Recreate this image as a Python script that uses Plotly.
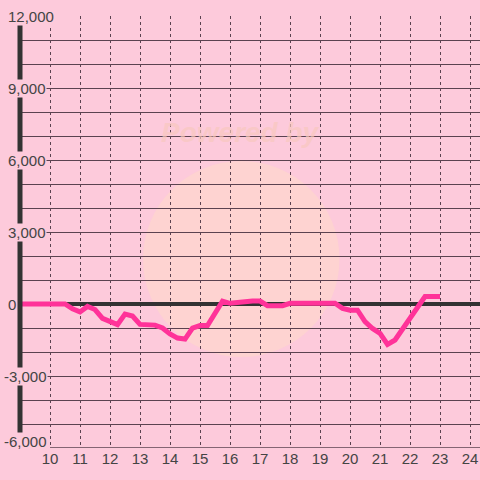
import plotly.graph_objects as go

# hour of day vs. value
hours = [9.0, 10.5, 10.75, 11.0, 11.25, 11.5, 11.75, 12.0, 12.25, 12.5, 12.75,
         13.0, 13.25, 13.5, 13.75, 14.0, 14.25, 14.5, 14.75, 15.0, 15.25, 15.5,
         15.75, 16.0, 16.25, 16.5, 16.75, 17.0, 17.25, 17.5, 17.75, 18.0, 19.5,
         19.75, 20.0, 20.25, 20.5, 20.75, 21.0, 21.25, 21.5, 22.5, 23.0]
values = [0, 0, -200, -330, -100, -230, -600, -720, -860, -420, -500,
          -850, -840, -880, -1000, -1250, -1420, -1460, -1000, -900, -900, -350,
          120, 30, 70, 120, 120, 120, -70, -70, -70, 30, 30,
          -180, -260, -260, -730, -1020, -1220, -1680, -1500, 310, 310]

x_ticks = list(range(10, 25))
y_labels = [12000, 9000, 6000, 3000, 0, -3000, -6000]

BG = "#fdcadb"
GRID = "#5b4250"
DARK = "#333333"

fig = go.Figure()

# faint watermark
fig.add_shape(type="circle", xref="x", yref="y", x0=13.1, x1=19.65, y0=-2210, y1=5960,
              fillcolor="rgba(255,220,200,0.5)", line=dict(width=0), layer="below")
fig.add_annotation(x=16.35, y=7150, xref="x", yref="y", text="<b><i>Powered by</i></b>",
                   showarrow=False, font=dict(size=28, color="rgba(248,200,190,0.7)",
                                              family="Liberation Sans"))

fig.add_trace(go.Scatter(x=hours, y=values, mode="lines",
                         line=dict(color="#ff3399", width=5),
                         hoverinfo="skip", showlegend=False))

# left axis bar
fig.add_shape(type="line", xref="paper", yref="y", x0=0, x1=0, y0=-6000, y1=11700,
              line=dict(color=DARK, width=5))
# bottom axis line
fig.add_shape(type="line", xref="x", yref="y", x0=10, x1=24.4, y0=-6000, y1=-6000,
              line=dict(color=GRID, width=1.5))

for v in y_labels:
    fig.add_annotation(x=0, y=v, xref="paper", yref="y", xanchor="left",
                       xshift=-17 if v < 0 else -13, yshift=7 if v == -6000 else 0,
                       text=f"{v:,}", showarrow=False, bgcolor=BG, borderpad=0,
                       font=dict(size=15, color="#444444", family="Liberation Sans"))

fig.update_layout(
    width=480, height=480,
    margin=dict(l=20, r=0, t=16, b=32),
    plot_bgcolor=BG, paper_bgcolor=BG,
    font=dict(family="Liberation Sans", color="#444444", size=15),
)
fig.update_xaxes(range=[9, 24.333], tickvals=x_ticks, showgrid=True, gridcolor=GRID,
                 griddash="dot", gridwidth=1, zeroline=False, showline=False,
                 ticks="", tickfont=dict(size=15, color="#444444"))
fig.update_yaxes(range=[-6000, 12000], dtick=1000, showgrid=True, gridcolor=GRID,
                 gridwidth=1.2, showticklabels=False, zeroline=True,
                 zerolinecolor=DARK, zerolinewidth=4, showline=False)

fig.write_html("out.html", config={"displayModeBar": False},
               post_script="document.body.style.margin='0';document.body.style.background='" + BG + "';")
